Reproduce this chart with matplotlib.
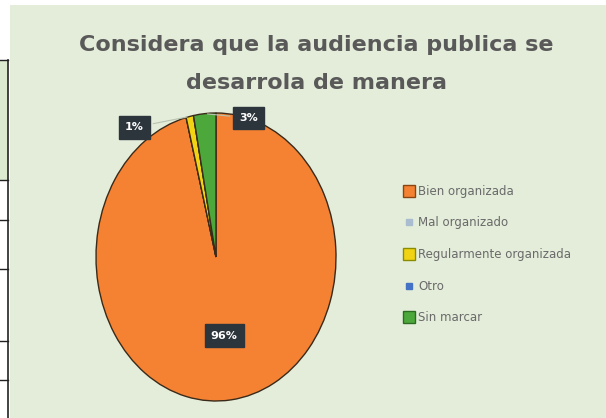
import numpy as np
import matplotlib.pyplot as plt
from matplotlib.patches import Rectangle
from matplotlib.lines import Line2D

categorias = ["Bien organizada", "Mal organizado", "Regularmente organizada", "Otro", "Sin marcar"]
valores = [96, 0, 1, 0, 3]
colores = ["#F58232", "#A9BCD0", "#F2D313", "#4472C4", "#4CA83A"]
bordes_leyenda = ["#8B4513", "#A9BCD0", "#8C8C00", "#4472C4", "#2E6B22"]
titulo = "Considera que la audiencia publica se\ndesarrola de manera"

W, H = 606, 418
fig = plt.figure(figsize=(W / 100, H / 100), dpi=100)
fig.patch.set_facecolor("white")

def px(x, y):
    # pixel (desde arriba-izquierda) -> fraccion de figura
    return x / W, 1 - y / H

# fondo del grafico
fig.add_artist(Rectangle(px(10, 418), 596 / W, 413 / H, transform=fig.transFigure,
                         facecolor="#E3EDD9", edgecolor="none", zorder=0))
# borde de la tabla cortada a la izquierda
fig.add_artist(Rectangle(px(0, 180), 8 / W, 120 / H, transform=fig.transFigure,
                         facecolor="#DCEBD0", edgecolor="none", zorder=1))
fig.add_artist(Line2D([8 / W, 8 / W], [0, 1 - 60 / H], transform=fig.transFigure,
                      color="#222222", lw=1.2))
for yy in [60, 180, 220, 269, 341, 380]:
    fig.add_artist(Line2D([0, 8 / W], [1 - yy / H] * 2, transform=fig.transFigure,
                          color="#222222", lw=1.0))

fig.text(316 / W, 1 - 64 / H, titulo, ha="center", va="center", fontsize=16,
         fontweight="bold", color="#595959", linespacing=2.1, family="DejaVu Sans")

# pastel (elipse como en la imagen)
l, t, r, b = 96, 113, 336, 401
ax = fig.add_axes([l / W, (H - b) / H, (r - l) / W, (b - t) / H])
ax.axis("off")

wedges, texts, autotexts = ax.pie(
    valores, colors=colores, startangle=90, counterclock=False, radius=1,
    autopct=lambda p: "%d%%" % round(p) if p > 50 else "", pctdistance=0.55,
    wedgeprops=dict(edgecolor="#3A2A1A", linewidth=1.0))
ax.set_aspect("auto")
ax.set_xlim(-1, 1)
ax.set_ylim(-1, 1)

caja = dict(boxstyle="square,pad=0.55", fc="#2C343C", ec="#2C343C")
for at in autotexts:
    if at.get_text():
        at.set_color("white")
        at.set_fontsize(8)
        at.set_fontweight("bold")
        at.set_bbox(caja)

# etiquetas de los sectores pequenos
pos_etiquetas = {2: (-0.68, 0.90), 4: (0.27, 0.965)}
for i, (tx, ty) in pos_etiquetas.items():
    w = wedges[i]
    ang = np.deg2rad((w.theta1 + w.theta2) / 2)
    ax.annotate("%d%%" % valores[i], xy=(np.cos(ang), np.sin(ang)), xytext=(tx, ty),
                ha="center", va="center", fontsize=8, fontweight="bold", color="white",
                bbox=caja, annotation_clip=False,
                arrowprops=dict(arrowstyle="-", color="#B8C4B0", lw=0.8))

tam = [8, 4, 8, 4, 8]
handles = [Line2D([], [], marker="s", ls="none", markersize=s, markerfacecolor=c,
                  markeredgecolor=e, markeredgewidth=1.0)
           for c, e, s in zip(colores, bordes_leyenda, tam)]
fig.legend(handles, categorias, loc="upper left", bbox_to_anchor=px(400, 180),
           frameon=False, fontsize=8.5, labelcolor="#6A6A6A", labelspacing=1.58,
           handlelength=0.8, handletextpad=0.35, borderaxespad=0)

fig.savefig("out.png", dpi=100)
